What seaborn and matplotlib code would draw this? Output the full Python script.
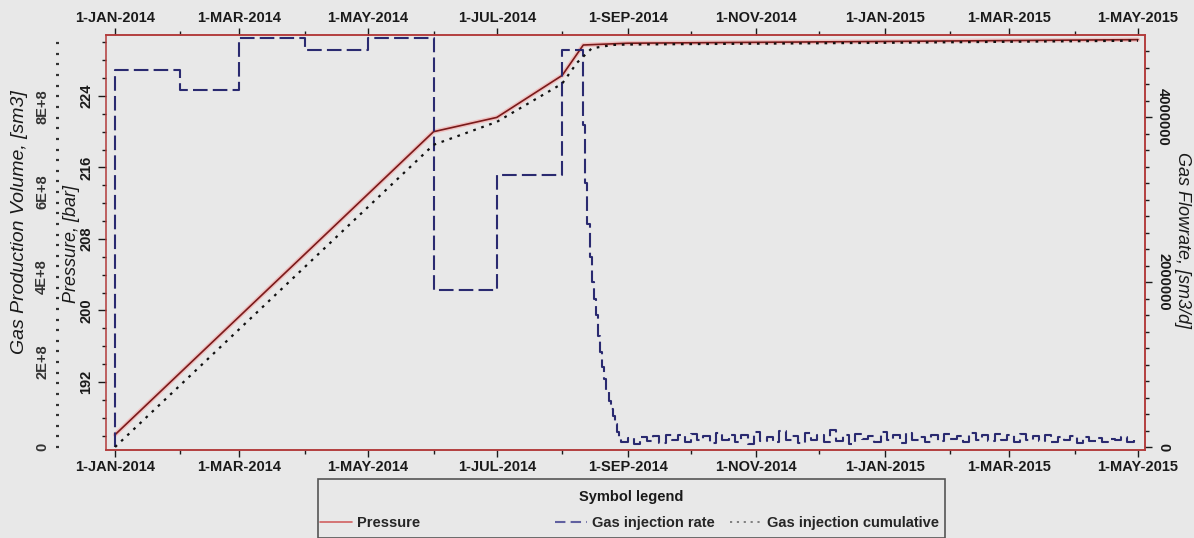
import pandas as pd
import matplotlib
matplotlib.use("Agg")
import matplotlib.pyplot as plt
import matplotlib.dates as mdates
import matplotlib.patheffects as pe
from matplotlib.ticker import MultipleLocator, FuncFormatter, FixedLocator
from matplotlib.lines import Line2D
from matplotlib.patches import Rectangle
import seaborn as sns

# ---------------- data ----------------
pressure_dates = ["2014-01-01", "2014-06-01", "2014-07-01", "2014-08-01",
                  "2014-08-11", "2014-09-01", "2015-01-01", "2015-05-01"]
pressure_bar = [186.1, 220.0, 221.6, 226.3, 229.7, 229.9, 230.1, 230.3]

cum_dates = ["2014-01-01", "2014-06-01", "2014-07-01", "2014-08-01", "2014-08-08",
             "2014-08-15", "2014-08-25", "2014-09-01", "2015-01-01", "2015-05-01"]
cum_sm3 = [0.0, 7.11e8, 7.65e8, 8.55e8, 9.04e8, 9.38e8, 9.46e8, 9.47e8, 9.51e8, 9.56e8]

rate_step_dates = ["2014-01-01", "2014-01-01", "2014-02-01", "2014-03-01", "2014-04-01",
                   "2014-05-01", "2014-06-01", "2014-07-01", "2014-08-01"]
rate_step_values = [0.0, 4.57e6, 4.33e6, 4.96e6, 4.81e6, 4.96e6, 1.90e6, 3.30e6, 4.81e6]

decay_start = "2014-08-11"
decay_values = [3.9e6, 3.2e6, 2.7e6, 2.3e6, 2.0e6, 1.8e6, 1.6e6, 1.35e6, 1.15e6,
                0.97e6, 0.82e6, 0.68e6, 0.56e6, 0.46e6, 0.38e6, 0.28e6, 0.18e6, 0.10e6]

tail_start = "2014-08-29"
tail_values_k = [60, 110, 40, 120, 70, 130, 50, 140, 90, 150,
                 60, 160, 80, 130, 50, 170, 90, 140, 60, 150,
                 40, 180, 70, 120, 60, 200, 80, 130, 50, 170,
                 90, 140, 60, 210, 70, 150, 40, 160, 100, 130,
                 60, 180, 90, 140, 50, 170, 80, 120, 60, 150,
                 70, 160, 100, 130, 60, 170, 90, 140, 70, 160,
                 80, 150, 60, 160, 90, 130, 70, 140, 60, 120,
                 80, 130, 50, 120, 70, 110, 60, 100, 80, 120, 60, 90]

pressure_ticks = [192, 200, 208, 216, 224]
volume_ticks = [0, 2e8, 4e8, 6e8, 8e8]
volume_labels = ["0", "2E+8", "4E+8", "6E+8", "8E+8"]
rate_ticks = [0, 2e6, 4e6]
rate_labels = ["0", "2000000", "4000000"]

series_names = ["Pressure", "Gas injection rate", "Gas injection cumulative"]

# ---------------- frames ----------------
pres_df = pd.DataFrame({"date": pd.to_datetime(pressure_dates), "value": pressure_bar})
cum_df = pd.DataFrame({"date": pd.to_datetime(cum_dates), "value": cum_sm3})
decay_dates = pd.date_range(decay_start, periods=len(decay_values), freq="D")
tail_dates = pd.date_range(tail_start, periods=len(tail_values_k), freq="3D")
rate_df = pd.DataFrame({
    "date": list(pd.to_datetime(rate_step_dates)) + list(decay_dates) + list(tail_dates),
    "value": rate_step_values + decay_values + [v * 1000 for v in tail_values_k],
})

# ---------------- style ----------------
sns.set_style("white")
plt.rcParams["font.family"] = ["Liberation Sans", "DejaVu Sans"]
BG = "#e8e8e8"
FRAME = "#b23a3a"
P_COL = "#7a1a1a"
R_COL = "#2a2a70"
C_COL = "#111111"
TXT = "#1a1a1a"
TICK_FS = 10.5

fig = plt.figure(figsize=(11.94, 5.38), dpi=100)
fig.patch.set_facecolor(BG)
ax = fig.add_axes([106 / 1194, 1 - 450 / 538, (1145 - 106) / 1194, (450 - 35) / 538])
ax.set_facecolor(BG)
ax_rate = ax.twinx()
ax_vol = ax.twinx()

# pressure
sns.lineplot(data=pres_df, x="date", y="value", ax=ax, color=P_COL, lw=1.2,
             estimator=None, sort=False,
             path_effects=[pe.withStroke(linewidth=3.2, foreground="#f0c0c0")])
# rate
sns.lineplot(data=rate_df, x="date", y="value", ax=ax_rate, color=R_COL, lw=1.5,
             estimator=None, sort=False, drawstyle="steps-post", dashes=False,
             linestyle=(0, (7, 2.5)))
# cumulative
sns.lineplot(data=cum_df, x="date", y="value", ax=ax_vol, color=C_COL, lw=1.6,
             estimator=None, sort=False, dashes=False, linestyle=(0, (1.2, 2.6)))

# ---------------- x axis ----------------
x0 = pd.Timestamp("2014-01-01") - pd.Timedelta(hours=103)
x1 = pd.Timestamp("2015-05-01") + pd.Timedelta(hours=80)
ax.set_xlim(x0, x1)
ax.xaxis.set_major_locator(mdates.MonthLocator(bymonth=[1, 3, 5, 7, 9, 11]))
ax.xaxis.set_minor_locator(mdates.MonthLocator())
ax.xaxis.set_major_formatter(FuncFormatter(
    lambda v, pos: "1-" + mdates.num2date(v).strftime("%b-%Y").upper()))
ax.tick_params(axis="x", which="both", top=True, labeltop=True, bottom=True,
               labelbottom=True, direction="out", colors=TXT, labelsize=TICK_FS,
               pad=2)
ax.tick_params(axis="x", which="major", length=5, width=1)
ax.tick_params(axis="x", which="minor", length=3, width=1)
for a in (ax, ax_rate, ax_vol):
    a.set_xlabel("")
    a.set_ylabel("")

# ---------------- pressure axis ----------------
ax.set_ylim(184.39, 230.82)
ax.yaxis.set_major_locator(FixedLocator(pressure_ticks))
ax.yaxis.set_minor_locator(MultipleLocator(2))
ax.tick_params(axis="y", which="both", left=True, direction="out", colors=TXT,
               labelsize=TICK_FS, pad=3)
ax.tick_params(axis="y", which="major", length=6, width=1)
ax.tick_params(axis="y", which="minor", length=3, width=1)

# ---------------- volume axis (outer left) ----------------
ax_vol.set_ylim(-0.07e8, 9.694e8)
ax_vol.yaxis.set_ticks_position("left")
ax_vol.spines["left"].set_position(("axes", -(106 - 56) / 1039))
ax_vol.spines["left"].set_visible(False)
for s in ("right", "top", "bottom"):
    ax_vol.spines[s].set_visible(False)
ax_vol.yaxis.set_major_locator(FixedLocator(volume_ticks))
ax_vol.yaxis.set_major_formatter(FuncFormatter(
    lambda v, pos: volume_labels[volume_ticks.index(v)] if v in volume_ticks else ""))
ax_vol.yaxis.set_minor_locator(MultipleLocator(0.25e8))
ax_vol.tick_params(axis="y", which="both", direction="in", colors="#333333",
                   labelsize=TICK_FS, pad=5, length=2, width=1.6)

# ---------------- rate axis (right) ----------------
ax_rate.set_ylim(-0.036e6, 4.994e6)
ax_rate.yaxis.set_major_locator(FixedLocator(rate_ticks))
ax_rate.yaxis.set_major_formatter(FuncFormatter(
    lambda v, pos: rate_labels[rate_ticks.index(v)] if v in rate_ticks else ""))
ax_rate.yaxis.set_minor_locator(MultipleLocator(0.2e6))
ax_rate.tick_params(axis="y", which="both", right=True, direction="out",
                    colors=TXT, labelsize=TICK_FS, pad=3, width=1)
ax_rate.tick_params(axis="y", which="major", length=5)
ax_rate.tick_params(axis="y", which="minor", length=3)

# bold, rotated tick labels
for t in ax.get_xticklabels() + ax.xaxis.get_ticklabels(minor=False):
    t.set_fontweight("bold")
for lab in ax.xaxis.get_majorticklabels():
    lab.set_fontweight("bold")
for a, rot in ((ax, 90), (ax_vol, 90), (ax_rate, -90)):
    for t in a.get_yticklabels():
        t.set_rotation(rot)
        t.set_va("center")
        t.set_fontweight("bold")
# top labels too
for tk in ax.xaxis.get_major_ticks():
    tk.label1.set_fontweight("bold")
    tk.label2.set_fontweight("bold")

# frame
for a in (ax, ax_rate):
    for s in a.spines.values():
        s.set_color(FRAME)
        s.set_linewidth(1.1)
ax_rate.spines["left"].set_visible(False)

# ---------------- axis titles ----------------
fig.text(20 / 1194, 1 - 222 / 538, "Gas Production Volume, [sm3]", rotation=90,
         ha="center", va="center", fontsize=14, style="italic", color=TXT)
fig.text(71 / 1194, 1 - 244 / 538, "Pressure, [bar]", rotation=90,
         ha="center", va="center", fontsize=13, style="italic", color=TXT)
fig.text(1182 / 1194, 1 - 240 / 538, "Gas Flowrate, [sm3/d]", rotation=-90,
         ha="center", va="center", fontsize=13, style="italic", color=TXT)

# ---------------- legend ----------------
fig.patches.append(Rectangle((318 / 1194, 0.5 / 538), 627 / 1194, 59 / 538,
                             transform=fig.transFigure, fill=False,
                             edgecolor="#555555", lw=1.2))
fig.text(631 / 1194, 1 - 497 / 538, "Symbol legend", ha="center", va="center",
         fontsize=10.5, fontweight="bold", color=TXT)
handles = [
    Line2D([], [], color="#d06060", lw=1.2),
    Line2D([], [], color="#6060a0", lw=1.5, linestyle=(0, (5, 2.5))),
    Line2D([], [], color="#777777", lw=1.3, linestyle=(0, (1.2, 2.6))),
]
entry_x = [320, 555, 730]
for h, name, xp in zip(handles, series_names, entry_x):
    fig.legend(handles=[h], labels=[name], loc="center left",
               bbox_to_anchor=(xp / 1194, 1 - 523 / 538), frameon=False,
               prop={"size": 10.5, "weight": "bold"}, handlelength=2.2,
               handletextpad=0.35, borderpad=0, borderaxespad=0)

fig.savefig("out.png", dpi=100, facecolor=BG)
